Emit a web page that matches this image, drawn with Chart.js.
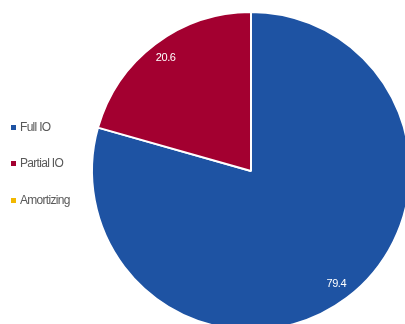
<!DOCTYPE html>
<html>
<head>
<meta charset="utf-8">
<script src="https://cdn.jsdelivr.net/npm/chart.js@4"></script>
<style>
  html, body { margin: 0; padding: 0; background: #fff; }
  body { width: 405px; height: 324px; overflow: hidden; position: relative; }
  #wrap { position: absolute; left: 0; top: 0; width: 420px; height: 340px; }
  #legend { position: absolute; left: 11px; top: 0; font-family: "Liberation Sans", Arial, sans-serif;
            font-size: 12px; letter-spacing: -0.7px; color: #595959; }
  .item { position: absolute; left: 0; white-space: nowrap; line-height: 14px; }
  .item span.box { position: absolute; left: 0; top: 5px; width: 5px; height: 5px; }
  .item span.txt { position: absolute; left: 9px; top: 0; }
</style>
</head>
<body>
<div id="wrap"><canvas id="pie" width="420" height="340"></canvas></div>
<div id="legend"></div>
<script>
const categories = ['Full IO', 'Partial IO', 'Amortizing'];
const shares = [79.4, 20.6, 0];
const colors = ['#1E53A3', '#A30030', '#F2B800'];
const legendTops = [120, 156, 193];

// html legend
const legendEl = document.getElementById('legend');
categories.forEach((c, i) => {
    const d = document.createElement('div');
    d.className = 'item';
    d.style.top = legendTops[i] + 'px';
    d.innerHTML = '<span class="box" style="background:' + colors[i] + '"></span><span class="txt">' + c + '</span>';
    legendEl.appendChild(d);
});

// value labels near the rim
const sliceLabels = {
    id: 'sliceLabels',
    afterDatasetsDraw(chart) {
        const ctx = chart.ctx;
        const meta = chart.getDatasetMeta(0);
        ctx.save();
        ctx.fillStyle = '#fff';
        ctx.font = '11px "Liberation Sans", Arial, sans-serif';
        ctx.letterSpacing = '-0.4px';
        ctx.textAlign = 'center';
        ctx.textBaseline = 'middle';
        meta.data.forEach((arc, i) => {
            if (!shares[i]) return;
            const p = arc.getProps(['x', 'y', 'startAngle', 'endAngle', 'outerRadius'], true);
            const mid = (p.startAngle + p.endAngle) / 2;
            const r = p.outerRadius * 0.89;
            ctx.fillText(shares[i].toFixed(1), p.x + Math.cos(mid) * r, p.y + Math.sin(mid) * r);
        });
        ctx.restore();
    }
};

new Chart(document.getElementById('pie'), {
    type: 'pie',
    data: {
        labels: categories,
        datasets: [{
            data: shares,
            backgroundColor: colors,
            borderColor: '#fff',
            borderWidth: 2
        }]
    },
    options: {
        responsive: false,
        devicePixelRatio: 1,
        animation: false,
        layout: { padding: { left: 91, top: 11, right: 9, bottom: 9 } },
        plugins: { legend: { display: false }, tooltip: { enabled: false } }
    },
    plugins: [sliceLabels]
});
</script>
</body>
</html>
